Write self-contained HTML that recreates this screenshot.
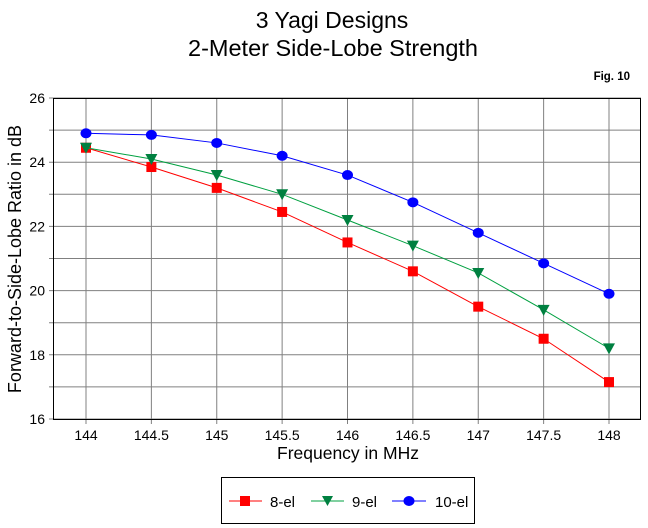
<!DOCTYPE html>
<html><head><meta charset="utf-8"><style>
body{margin:0;background:#fff}
svg{display:block;font-family:"Liberation Sans",Arial,sans-serif}
</style></head><body>
<svg id="s" width="648" height="528" xmlns="http://www.w3.org/2000/svg">
<rect width="648" height="528" fill="#fff"/>
<text x="332" y="28" font-size="23" text-anchor="middle">3 Yagi Designs</text>
<text x="333" y="56" font-size="23.5" text-anchor="middle">2-Meter Side-Lobe Strength</text>
<text x="630" y="80" font-size="11.5" font-weight="bold" text-anchor="end">Fig. 10</text>
<g id="g"></g>
<text x="348" y="459" font-size="17.5" text-anchor="middle">Frequency in MHz</text>
<text transform="translate(21,259) rotate(-90)" font-size="18" text-anchor="middle">Forward-to-Side-Lobe Ratio in dB</text>
<rect x="221.5" y="477.5" width="253" height="46" fill="none" stroke="#000"/>
<line x1="229" y1="501" x2="262" y2="501" stroke="#f00"/><rect x="240" y="496" width="10" height="10" fill="#f00"/>
<text x="270" y="507" font-size="15">8-el</text>
<line x1="311" y1="501" x2="344" y2="501" stroke="#00a040"/><polygon points="322,496 333,496 327.5,506" fill="#008040"/>
<text x="352" y="507" font-size="15">9-el</text>
<line x1="392" y1="501" x2="426" y2="501" stroke="#00f"/><ellipse cx="409" cy="501" rx="5.5" ry="5" fill="#00f"/>
<text x="435" y="507" font-size="15">10-el</text>
</svg>
<script>
var L=53,R=641,T=98,B=419;
function X(f){return 86+(f-144)*130.75}
function Y(v){return T+(26-v)*32.1}
var h='';
for(var i=0;i<=8;i++){var x=X(144+i*0.5);h+='<line x1="'+x+'" y1="'+T+'" x2="'+x+'" y2="'+(B+5)+'" stroke="#808080"/>';
h+='<text x="'+x+'" y="'+(B+21)+'" font-size="14" text-anchor="middle">'+(144+i*0.5)+'</text>';}
for(var v=16;v<=26;v++){var y=Y(v);h+='<line x1="'+(L-4)+'" y1="'+y+'" x2="'+R+'" y2="'+y+'" stroke="#808080"/>';
if(v%2==0)h+='<text x="'+(L-8)+'" y="'+(y+5)+'" font-size="14" text-anchor="end">'+v+'</text>';}
h+='<rect x="'+(L+.5)+'" y="'+(T+.5)+'" width="'+(R-L-1)+'" height="'+(B-T)+'" fill="none" stroke="#000"/>';
var d=[[24.45,23.85,23.2,22.45,21.5,20.6,19.5,18.5,17.15],[24.45,24.1,23.6,23.0,22.2,21.4,20.55,19.4,18.2],[24.9,24.85,24.6,24.2,23.6,22.75,21.8,20.85,19.9]];
var c=['#f00','#00a040','#00f'];
for(var k=0;k<3;k++){var p=d[k].map(function(v,i){return X(144+i*.5)+','+Y(v)}).join(' ');
h+='<polyline points="'+p+'" fill="none" stroke="'+c[k]+'"/>';
d[k].forEach(function(v,i){var x=X(144+i*.5),y=Y(v);
if(k==0)h+='<rect x="'+(x-5)+'" y="'+(y-5)+'" width="10" height="10" fill="#f00"/>';
else if(k==1)h+='<polygon points="'+(x-6)+','+(y-5)+' '+(x+6)+','+(y-5)+' '+x+','+(y+6)+'" fill="#008040"/>';
else h+='<ellipse cx="'+x+'" cy="'+y+'" rx="5.5" ry="5" fill="#00f"/>';});}
document.getElementById('g').innerHTML=h;
</script>
</body></html>
